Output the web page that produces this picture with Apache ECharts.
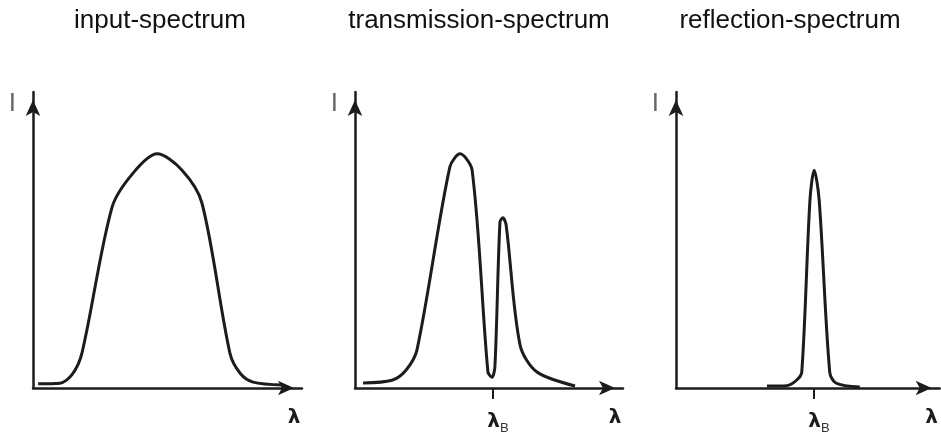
<!DOCTYPE html>
<html>
<head>
<meta charset="utf-8">
<style>
  html, body { margin: 0; padding: 0; background: #fff; }
  #chart { width: 941px; height: 437px; }
</style>
<script src="https://cdn.jsdelivr.net/npm/echarts@6/dist/echarts.min.js"></script>
</head>
<body>
<div id="chart"></div>
<script>
// Panel titles
const titles = ['input-spectrum', 'transmission-spectrum', 'reflection-spectrum'];
// Axis labels
const yName = 'I';
const xName = 'λ';
const braggLabel = 'B';

// Curves: [wavelength (arb. units 0-100), intensity (arb. units 0-100)]
const inputSpectrum = [
  [1.9, 1.4], [10.0, 1.6], [14.5, 4.5], [18.2, 11.8], [29.4, 61.1],
  [37.2, 72.6], [46.1, 79.1], [55.4, 73.6], [62.8, 62.5], [73.2, 11.8], [77.0, 5.0],
  [81.8, 2.0], [92.9, 1.0]
];
const transmissionSpectrum = [
  [3.0, 1.7], [13.8, 2.6], [19.0, 6.0], [23.1, 12.8], [35.4, 74.7], [39.2, 79.1],
  [43.7, 73.6], [49.6, 5.4], [51.1, 3.6], [52.2, 7.1], [54.1, 56.1], [55.2, 57.5],
  [56.4, 55.0], [61.6, 14.5], [67.9, 5.4], [82.1, 0.7]
];
const reflectionSpectrum = [
  [34.5, 0.7], [42.0, 0.8], [45.8, 2.7], [47.7, 5.4], [50.8, 63.5], [52.4, 73.6],
  [54.3, 63.5], [58.3, 5.4], [60.6, 1.7], [69.7, 0.3]
];
// Bragg wavelength tick positions (panel 2, panel 3)
const braggTicks = [null, 51.5, 52.3];

const chart = echarts.init(document.getElementById('chart'), null, { renderer: 'canvas' });
const ink = '#1c1c1c';
const font = 'Liberation Sans, Arial, sans-serif';

const grids = [
  { left: 33, top: 92, width: 269, height: 296 },
  { left: 355, top: 92, width: 268, height: 296 },
  { left: 676, top: 92, width: 264, height: 296 }
];
const titleCenters = [160, 479, 790];
const curves = [inputSpectrum, transmissionSpectrum, reflectionSpectrum];

const option = {
  backgroundColor: '#fff',
  animation: false,
  title: titles.map((t, i) => ({
    text: t,
    left: titleCenters[i],
    textAlign: 'center',
    top: 8,
    padding: 0,
    textStyle: { fontFamily: font, fontSize: 26, fontWeight: 'normal', color: '#111' }
  })),
  grid: grids,
  xAxis: grids.map((g, i) => ({
    type: 'value', gridIndex: i, min: 0, max: 100,
    splitLine: { show: false },
    axisLine: {
      show: true, onZero: false,
      symbol: ['none', 'arrow'], symbolSize: [11, 16], symbolOffset: [0, -8],
      lineStyle: { color: ink, width: 2.5 }
    },
    axisTick: braggTicks[i] === null ? { show: false } : {
      show: true, length: 11, customValues: [braggTicks[i]],
      lineStyle: { color: ink, width: 2 }
    },
    axisLabel: braggTicks[i] === null ? { show: false } : {
      show: true, customValues: [braggTicks[i]], margin: 20,
      formatter: () => '{l|' + xName + '}{s|' + braggLabel + '}',
      rich: {
        l: { fontFamily: 'DejaVu Sans, sans-serif', fontWeight: 'bold', fontSize: 20, color: ink, padding: [0, 0, 0, 10] },
        s: { fontFamily: font, fontSize: 13, color: '#333', padding: [14, 0, 0, 0] }
      }
    },
    name: xName, nameLocation: 'end', nameGap: -8,
    nameTextStyle: {
      fontFamily: 'DejaVu Sans, sans-serif', fontWeight: 'bold', fontSize: 20, color: ink,
      align: 'center', verticalAlign: 'top', padding: [20, 0, 0, 0]
    }
  })),
  yAxis: grids.map((g, i) => ({
    type: 'value', gridIndex: i, min: 0, max: 100,
    splitLine: { show: false },
    axisLine: {
      show: true, onZero: false,
      symbol: ['none', 'arrow'], symbolSize: [11, 16], symbolOffset: [0, -8],
      lineStyle: { color: ink, width: 2.5 }
    },
    axisTick: { show: false },
    axisLabel: { show: false },
    name: yName, nameLocation: 'end', nameGap: -12,
    nameTextStyle: {
      fontFamily: font, fontSize: 26, color: '#666',
      align: 'right', verticalAlign: 'middle', padding: [0, 17, 0, 0]
    }
  })),
  series: curves.map((d, i) => ({
    type: 'line', xAxisIndex: i, yAxisIndex: i, data: d,
    smooth: 0.3, showSymbol: false, symbol: 'none',
    lineStyle: { color: ink, width: 3 },
    z: 3
  }))
};
chart.setOption(option);
</script>
</body>
</html>
